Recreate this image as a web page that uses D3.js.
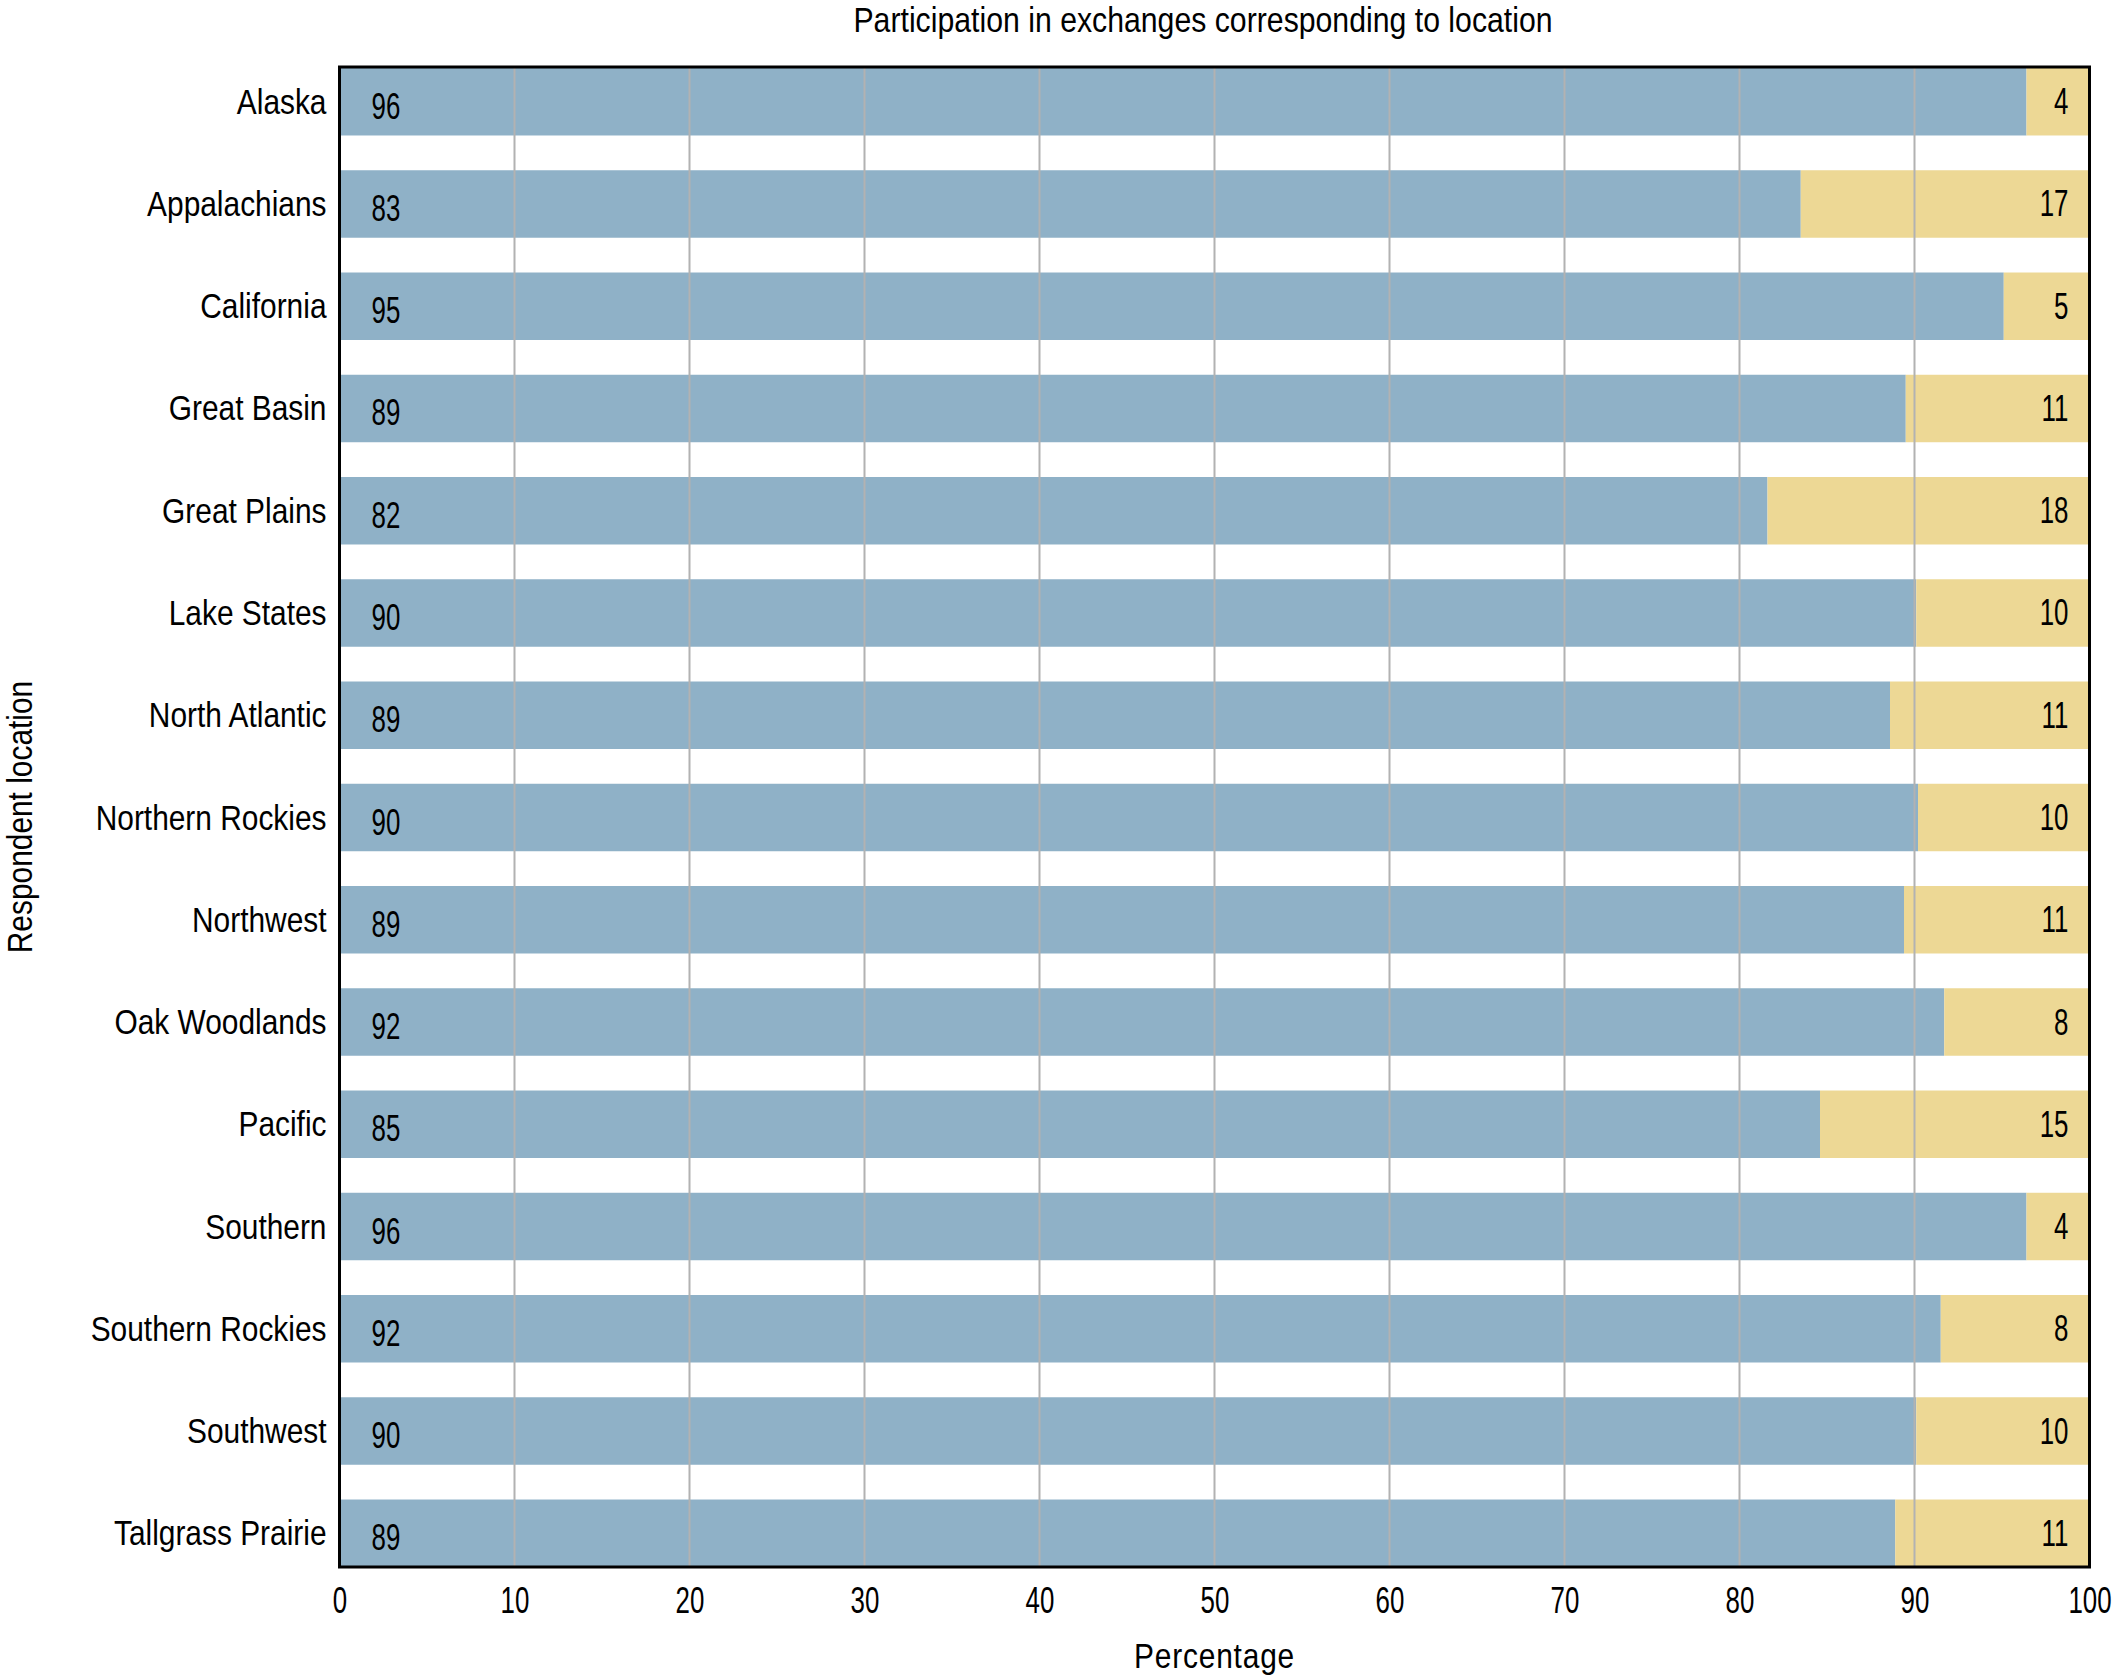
<!DOCTYPE html>
<html>
<head>
<meta charset="utf-8">
<script src="https://cdn.jsdelivr.net/npm/d3@7"></script>
<style>
    body { margin: 0; background: #fff; }
    text { font-family: "Liberation Sans", Arial, sans-serif; font-size: 36px; fill: #000; }
    .num { font-size: 37px; }
</style>
</head>
<body>
<svg id="chart" width="2112" height="1678"></svg>
<script>
// regions, top to bottom
let locations = ['Alaska', 'Appalachians', 'California', 'Great Basin', 'Great Plains', 'Lake States',
    'North Atlantic', 'Northern Rockies', 'Northwest', 'Oak Woodlands', 'Pacific', 'Southern',
    'Southern Rockies', 'Southwest', 'Tallgrass Prairie'];

// bar lengths (percent)
let yes_share = [96.4, 83.5, 95.1, 89.5, 81.6, 90.1, 88.6, 90.2, 89.4, 91.7, 84.6, 96.4, 91.5, 90.1, 88.9];
let no_share = [3.6, 16.5, 4.9, 10.5, 18.4, 9.9, 11.4, 9.8, 10.6, 8.3, 15.4, 3.6, 8.5, 9.9, 11.1];

// printed labels
let yes_label = [96, 83, 95, 89, 82, 90, 89, 90, 89, 92, 85, 96, 92, 90, 89];
let no_label = [4, 17, 5, 11, 18, 10, 11, 10, 11, 8, 15, 4, 8, 10, 11];

let x_ticks = [0, 10, 20, 30, 40, 50, 60, 70, 80, 90, 100];

let colors = ['#8fb1c7', '#edd895'];

// the original uses a condensed face; squeeze Liberation Sans to get close
let word_squeeze = 0.83,
    digit_squeeze = 0.7;

let svg = d3.select('#chart'),
    plot_left = 339.5,
    plot_right = 2089.5,
    plot_top = 67,
    plot_bottom = 1567;

function at(px, py, s) {
    return 'translate(' + px + ',' + py + ') scale(' + s + ',1)';
}

let x = d3.scaleLinear().domain([0, 100]).range([plot_left, plot_right]);
let y = d3.scaleBand()
    .domain(locations)
    .range([plot_top + 1, plot_bottom])
    .paddingInner(0.34)
    .paddingOuter(0);

let rows = locations.map(function (name, i) {
    return {name: name, yes: yes_share[i], no: no_share[i], yes_label: yes_label[i], no_label: no_label[i]};
});

let bars = svg.append('g');

bars.selectAll('.yes')
    .data(rows)
    .enter().append('rect')
    .attr('class', 'yes')
    .attr('x', x(0))
    .attr('y', function (d) { return y(d.name); })
    .attr('width', function (d) { return x(d.yes) - x(0); })
    .attr('height', y.bandwidth())
    .attr('fill', colors[0]);

bars.selectAll('.no')
    .data(rows)
    .enter().append('rect')
    .attr('class', 'no')
    .attr('x', function (d) { return x(d.yes); })
    .attr('y', function (d) { return y(d.name); })
    .attr('width', function (d) { return x(d.yes + d.no) - x(d.yes); })
    .attr('height', y.bandwidth())
    .attr('fill', colors[1]);

// grid lines sit on top of the bars
svg.append('g')
    .selectAll('line')
    .data(x_ticks.slice(1, -1))
    .enter().append('line')
    .attr('x1', function (d) { return x(d); })
    .attr('x2', function (d) { return x(d); })
    .attr('y1', plot_top)
    .attr('y2', plot_bottom)
    .attr('stroke', '#b2b2b2')
    .attr('stroke-width', 2);

// value labels
svg.append('g')
    .selectAll('text')
    .data(rows)
    .enter().append('text')
    .attr('class', 'num')
    .attr('transform', function (d) {
        return at(x(0) + 32, y(d.name) + y.bandwidth() / 2 + 17, digit_squeeze);
    })
    .text(function (d) { return d.yes_label; });

svg.append('g')
    .selectAll('text')
    .data(rows)
    .enter().append('text')
    .attr('class', 'num')
    .attr('transform', function (d) {
        return at(x(100) - 21, y(d.name) + y.bandwidth() / 2 + 12.5, digit_squeeze);
    })
    .attr('text-anchor', 'end')
    .text(function (d) { return d.no_label; });

// category labels
svg.append('g')
    .selectAll('text')
    .data(locations)
    .enter().append('text')
    .attr('transform', function (d) {
        return at(plot_left - 13, y(d) + y.bandwidth() / 2 + 12, word_squeeze);
    })
    .attr('text-anchor', 'end')
    .text(function (d) { return d; });

// x tick labels
let x_axis = d3.axisBottom(x).tickValues(x_ticks).tickSize(0).tickPadding(0);
let axis_g = svg.append('g')
    .attr('transform', 'translate(0,' + plot_bottom + ')')
    .call(x_axis);
axis_g.select('.domain').remove();
axis_g.attr('font-family', null).attr('font-size', null);
axis_g.selectAll('text')
    .attr('class', 'num')
    .attr('dy', 0)
    .attr('y', 46)
    .attr('transform', 'scale(' + digit_squeeze + ',1)')
    .attr('fill', '#000');

// frame
svg.append('rect')
    .attr('x', plot_left)
    .attr('y', plot_top)
    .attr('width', plot_right - plot_left)
    .attr('height', plot_bottom - plot_top)
    .attr('fill', 'none')
    .attr('stroke', '#000')
    .attr('stroke-width', 3);

svg.append('text')
    .attr('transform', at(1203, 32, 0.84))
    .attr('text-anchor', 'middle')
    .text('Participation in exchanges corresponding to location');

svg.append('text')
    .attr('transform', at((plot_left + plot_right) / 2, 1668, word_squeeze))
    .attr('text-anchor', 'middle')
    .attr('letter-spacing', 1)
    .text('Percentage');

svg.append('text')
    .attr('transform', 'translate(32,' + (plot_top + plot_bottom) / 2 + ') rotate(-90) scale(' + word_squeeze + ',1)')
    .attr('text-anchor', 'middle')
    .text('Respondent location');
</script>
</body>
</html>
